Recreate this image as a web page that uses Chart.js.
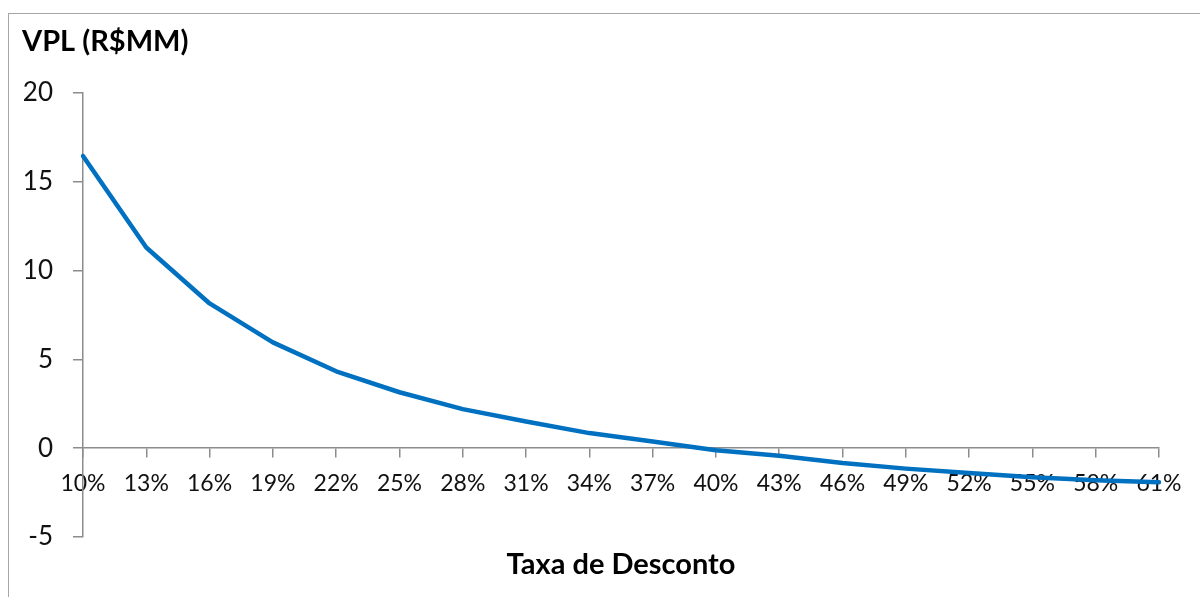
<!DOCTYPE html>
<html>
<head>
<meta charset="utf-8">
<script src="https://cdn.jsdelivr.net/npm/chart.js@4"></script>
<style>
  html, body { margin: 0; padding: 0; background: #ffffff; overflow: hidden; }
  #frame { position: absolute; left: 8px; top: 13px; width: 1300px; height: 700px; border: 1.5px solid #a6a6a6; box-sizing: border-box; }
  #c { position: absolute; left: 0; top: 0; }
</style>
</head>
<body>
<div id="frame"></div>
<canvas id="c" width="1200" height="597"></canvas>
<script>
// Categories: discount rates
const categories = ['10%','13%','16%','19%','22%','25%','28%','31%','34%','37%','40%','43%','46%','49%','52%','55%','58%','61%'];
// NPV values (R$ MM)
const vpl = [16.45, 11.3, 8.15, 5.96, 4.33, 3.15, 2.2, 1.5, 0.85, 0.38, -0.12, -0.42, -0.83, -1.15, -1.4, -1.64, -1.81, -1.92];
// Y axis range / step
const yMin = -5;
const yMax = 20;
const yStep = 5;
const chartTitle = 'VPL (R$MM)';
const xTitle = 'Taxa de Desconto';

const FONT = 'Lato, "Open Sans", sans-serif';
const AXIS_GRAY = '#8c8c8c';

new Chart(document.getElementById('c'), {
  type: 'line',
  data: {
    labels: categories,
    datasets: [{
      data: vpl,
      borderColor: '#0070C0',
      borderWidth: 4.5,
      pointRadius: 0,
      tension: 0,
      fill: false,
      borderJoinStyle: 'round',
      borderCapStyle: 'round'
    }]
  },
  options: {
    responsive: false,
    animation: false,
    devicePixelRatio: 1,
    layout: { padding: { left: 22, right: 41, top: 0, bottom: 60 } },
    plugins: {
      legend: { display: false },
      tooltip: { enabled: false },
      title: {
        display: true,
        text: chartTitle,
        align: 'start',
        color: '#000',
        font: { family: FONT, size: 29, weight: 'bold', lineHeight: 1.2 },
        padding: { top: 24.6, bottom: 33.6 }
      }
    },
    scales: {
      x: {
        type: 'category',
        position: { y: 0 },
        offset: false,
        border: { display: true, color: AXIS_GRAY, width: 1.5 },
        grid: { display: true, drawOnChartArea: false, drawTicks: true, tickLength: 9, color: AXIS_GRAY, lineWidth: 1.5 },
        ticks: {
          autoSkip: false,
          maxRotation: 0,
          minRotation: 0,
          padding: 13,
          color: '#111',
          font: { family: FONT, size: 23 }
        },
        title: {
          display: true,
          text: xTitle,
          color: '#000',
          font: { family: FONT, size: 29, weight: 'bold', lineHeight: 1.2 },
          padding: { top: 36, bottom: 0 }
        }
      },
      y: {
        min: yMin,
        max: yMax,
        border: { display: true, color: AXIS_GRAY, width: 1.5 },
        grid: { display: true, drawOnChartArea: false, drawTicks: true, tickLength: 10, color: AXIS_GRAY, lineWidth: 1.5 },
        ticks: {
          stepSize: yStep,
          padding: 20,
          color: '#111',
          font: { family: FONT, size: 26 }
        },
        afterFit: (scale) => { scale.width = 61; }
      }
    }
  }
});
</script>
</body>
</html>
